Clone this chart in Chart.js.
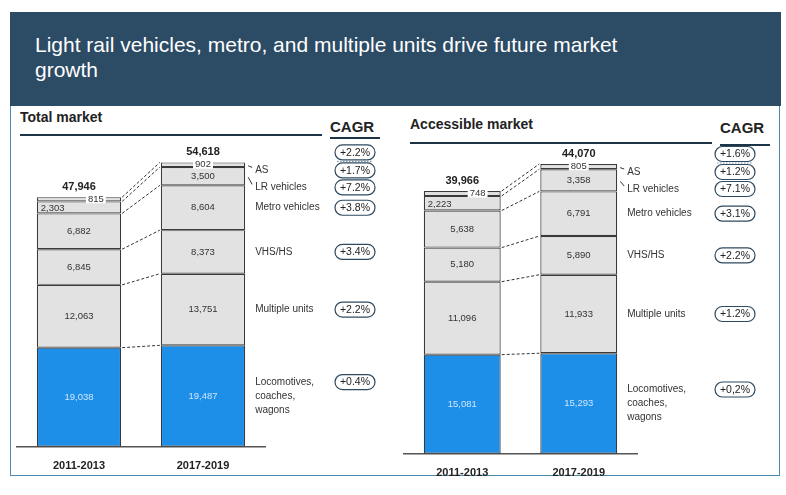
<!DOCTYPE html>
<html>
<head>
<meta charset="utf-8">
<script src="https://cdn.jsdelivr.net/npm/chart.js@4.4.1/dist/chart.umd.min.js"></script>
<style>
  body { margin: 0; background: #fff; width: 786px; height: 495px; position: relative; overflow: hidden;
         font-family: "Liberation Sans Narrow", "Liberation Sans", Arial, sans-serif; }
  .abs { position: absolute; }
  #frame { left: 10px; top: 12px; width: 768px; height: 462px; border: 1.5px solid #4b8bab; }
  #band { left: 10px; top: 12px; width: 771px; height: 94px; background: #2c4b65; }
  #title { left: 35px; top: 32px; color: #fff; font: 21px "Liberation Sans", Arial, sans-serif; line-height: 25px; }
  .hd { font-weight: bold; color: #222; font-family: "Liberation Sans", Arial, sans-serif; }
  .rule { height: 2px; background: #1d3447; }
</style>
</head>
<body>
<div id="frame" class="abs"></div>
<div id="band" class="abs"></div>
<div id="title" class="abs">Light rail vehicles, metro, and multiple units drive future market<br>growth</div>

<div class="abs hd" style="left:20px;top:109px;font-size:14px;">Total market</div>
<div class="abs rule" style="left:20px;top:134px;width:302px;"></div>
<div class="abs hd" style="left:330px;top:118px;font-size:15px;">CAGR</div>
<div class="abs rule" style="left:330px;top:137px;width:50px;"></div>

<div class="abs hd" style="left:410px;top:116px;font-size:14px;">Accessible market</div>
<div class="abs rule" style="left:410px;top:142px;width:302px;"></div>
<div class="abs hd" style="left:720px;top:119px;font-size:15px;">CAGR</div>
<div class="abs rule" style="left:720px;top:144px;width:50px;"></div>

<canvas id="totalChart" class="abs" width="400" height="347" style="left:0;top:140px;"></canvas>
<canvas id="accChart" class="abs" width="386" height="351" style="left:400px;top:140px;"></canvas>

<script>
// periods on the x axis
const periods = ["2011-2013", "2017-2019"];
// segments, bottom to top
const segmentNames = [
  ["Locomotives,", "coaches,", "wagons"],
  ["Multiple units"],
  ["VHS/HS"],
  ["Metro vehicles"],
  ["LR vehicles"],
  ["AS"]
];

// Total market (bottom to top)
const total2011 = [19038, 12063, 6845, 6882, 2303, 815];
const total2017 = [19487, 13751, 8373, 8604, 3500, 902];
const totalSums = [47946, 54618];
const totalCagr = ["+0.4%", "+2.2%", "+3.4%", "+3.8%", "+7.2%", "+1.7%"];
const totalCagrAll = "+2.2%";

// Accessible market (bottom to top)
const acc2011 = [15081, 11096, 5180, 5638, 2223, 748];
const acc2017 = [15293, 11933, 5890, 6791, 3358, 805];
const accSums = [39966, 44070];
const accCagr = ["+0,2%", "+1.2%", "+2.2%", "+3.1%", "+7.1%", "+1.2%"];
const accCagrAll = "+1.6%";

const FONT = '"Liberation Sans Narrow", "Liberation Sans", Arial, sans-serif';
const GREY = "#e2e2e2";
const BLUE = "#1e8fe8";

function fmt(v) {
  return v.toLocaleString("en-US");
}

function pill(ctx, x, y, txt) {
  ctx.beginPath();
  ctx.roundRect(x - 20, y - 7.5, 40, 15, 7.5);
  ctx.fillStyle = "#fff";
  ctx.fill();
  ctx.lineWidth = 1.2;
  ctx.strokeStyle = "#2e4a60";
  ctx.stroke();
  ctx.fillStyle = "#222";
  ctx.font = "10.5px " + FONT;
  ctx.textAlign = "center";
  ctx.textBaseline = "middle";
  ctx.fillText(txt, x, y + 0.5);
}

function overlay(sums, cagr, cagrAll, pillX) {
  return {
    id: "overlay",
    afterDatasetsDraw(chart) {
      const ctx = chart.ctx;
      const metas = chart.data.datasets.map((d, i) => chart.getDatasetMeta(i));
      const n = metas.length;

      // dashed connectors between segment tops
      ctx.save();
      ctx.setLineDash([3, 2]);
      ctx.strokeStyle = "#333";
      ctx.lineWidth = 1;
      metas.forEach(m => {
        const a = m.data[0], b = m.data[1];
        ctx.beginPath();
        ctx.moveTo(a.x + a.width / 2 + 1, a.y);
        ctx.lineTo(b.x - b.width / 2 - 1, b.y);
        ctx.stroke();
      });
      ctx.restore();

      // values inside segments
      ctx.save();
      ctx.font = "9.5px " + FONT;
      ctx.textBaseline = "middle";
      metas.forEach((m, i) => {
        m.data.forEach((bar, j) => {
          const txt = fmt(chart.data.datasets[i].data[j]);
          const h = bar.base - bar.y;
          const mid = (bar.y + bar.base) / 2;
          let x = bar.x;
          ctx.textAlign = "center";
          if (h < 7) {
            const below = metas[i - 1].data[j];
            if (below.base - below.y < 16) x = bar.x + bar.width * 0.2;
            const tw = ctx.measureText(txt).width;
            ctx.fillStyle = "#fff";
            ctx.fillRect(x - tw / 2 - 2, mid - 4, tw + 4, 8);
            ctx.fillStyle = "#333";
            ctx.fillText(txt, x, mid);
          } else if (h < 16) {
            ctx.textAlign = "left";
            ctx.fillStyle = "#333";
            ctx.fillText(txt, bar.x - bar.width / 2 + 4, mid + 1);
          } else {
            ctx.fillStyle = i === 0 ? "#cfe6ff" : "#333";
            ctx.fillText(txt, x, mid);
          }
        });
      });
      ctx.restore();

      // totals above bars
      ctx.save();
      ctx.font = "bold 11px " + FONT;
      ctx.fillStyle = "#222";
      ctx.textAlign = "center";
      ctx.textBaseline = "middle";
      metas[n - 1].data.forEach((bar, j) => {
        ctx.fillText(fmt(sums[j]), bar.x, bar.y - 10);
      });
      ctx.restore();

      // segment names and CAGR pills next to the right bar
      const top = metas[n - 1].data[1];
      const labelX = top.x + top.width / 2 + 10;
      let prev = -Infinity;
      const ys = [];
      for (let i = n - 1; i >= 0; i--) {
        const bar = metas[i].data[1];
        const mid = (bar.y + bar.base) / 2;
        const y = i === n - 1 ? Math.max(mid, bar.y + 8) : Math.max(mid, prev + 17);
        ys[i] = y;
        prev = y;
      }
      ctx.save();
      for (let i = 0; i < n; i++) {
        const bar = metas[i].data[1];
        const mid = (bar.y + bar.base) / 2;
        const lines = segmentNames[i];
        const y0 = ys[i] - (lines.length - 1) * 7;
        ctx.font = "10px " + FONT;
        ctx.fillStyle = "#333";
        ctx.textAlign = "left";
        ctx.textBaseline = "middle";
        lines.forEach((t, k) => ctx.fillText(t, labelX, y0 + k * 14));
        if (ys[i] - mid > 4) {
          ctx.beginPath();
          ctx.strokeStyle = "#333";
          ctx.lineWidth = 1;
          ctx.moveTo(bar.x + bar.width / 2 + 3, mid + 1);
          ctx.lineTo(labelX - 3, ys[i] - 3);
          ctx.stroke();
        }
        pill(ctx, pillX, y0, cagr[i]);
      }
      const totalY = top.y - 10;
      pill(ctx, pillX, totalY, cagrAll);
      // dotted separator under the overall CAGR
      const sepY = (totalY + ys[n - 1]) / 2;
      ctx.beginPath();
      ctx.setLineDash([1.5, 1.5]);
      ctx.strokeStyle = "#7f97b0";
      ctx.lineWidth = 1.2;
      ctx.moveTo(pillX - 18, sepY);
      ctx.lineTo(pillX + 18, sepY);
      ctx.stroke();
      ctx.restore();
    }
  };
}

function makeChart(id, a, b, sums, cagr, cagrAll, opts) {
  const datasets = segmentNames.map((name, i) => ({
    label: name.join(" "),
    data: [a[i], b[i]],
    backgroundColor: i === 0 ? BLUE : GREY,
    borderColor: "#3a3a3a",
    borderWidth: 1.2,
    borderSkipped: false,
    categoryPercentage: 1,
    barPercentage: opts.barPct
  }));

  return new Chart(document.getElementById(id), {
    type: "bar",
    data: { labels: periods, datasets: datasets },
    options: {
      responsive: false,
      animation: false,
      layout: { padding: opts.padding },
      plugins: { legend: { display: false }, tooltip: { enabled: false } },
      scales: {
        x: {
          stacked: true,
          grid: { display: false },
          border: { display: true, color: "#555", width: 1.5 },
          ticks: { color: "#222", padding: 5, font: { family: FONT, size: 11, weight: "bold" } }
        },
        y: { stacked: true, display: false, min: 0, max: opts.max }
      }
    },
    plugins: [overlay(sums, cagr, cagrAll, opts.pillX)]
  });
}

makeChart("totalChart", total2011, total2017, totalSums, totalCagr, totalCagrAll, {
  barPct: 0.68, max: 57000, pillX: 355,
  padding: { left: 17, right: 135, top: 10, bottom: 9 }
});

makeChart("accChart", acc2011, acc2017, accSums, accCagr, accCagrAll, {
  barPct: 0.66, max: 46200, pillX: 335,
  padding: { left: 4, right: 149, top: 10, bottom: 6 }
});
</script>
</body>
</html>
